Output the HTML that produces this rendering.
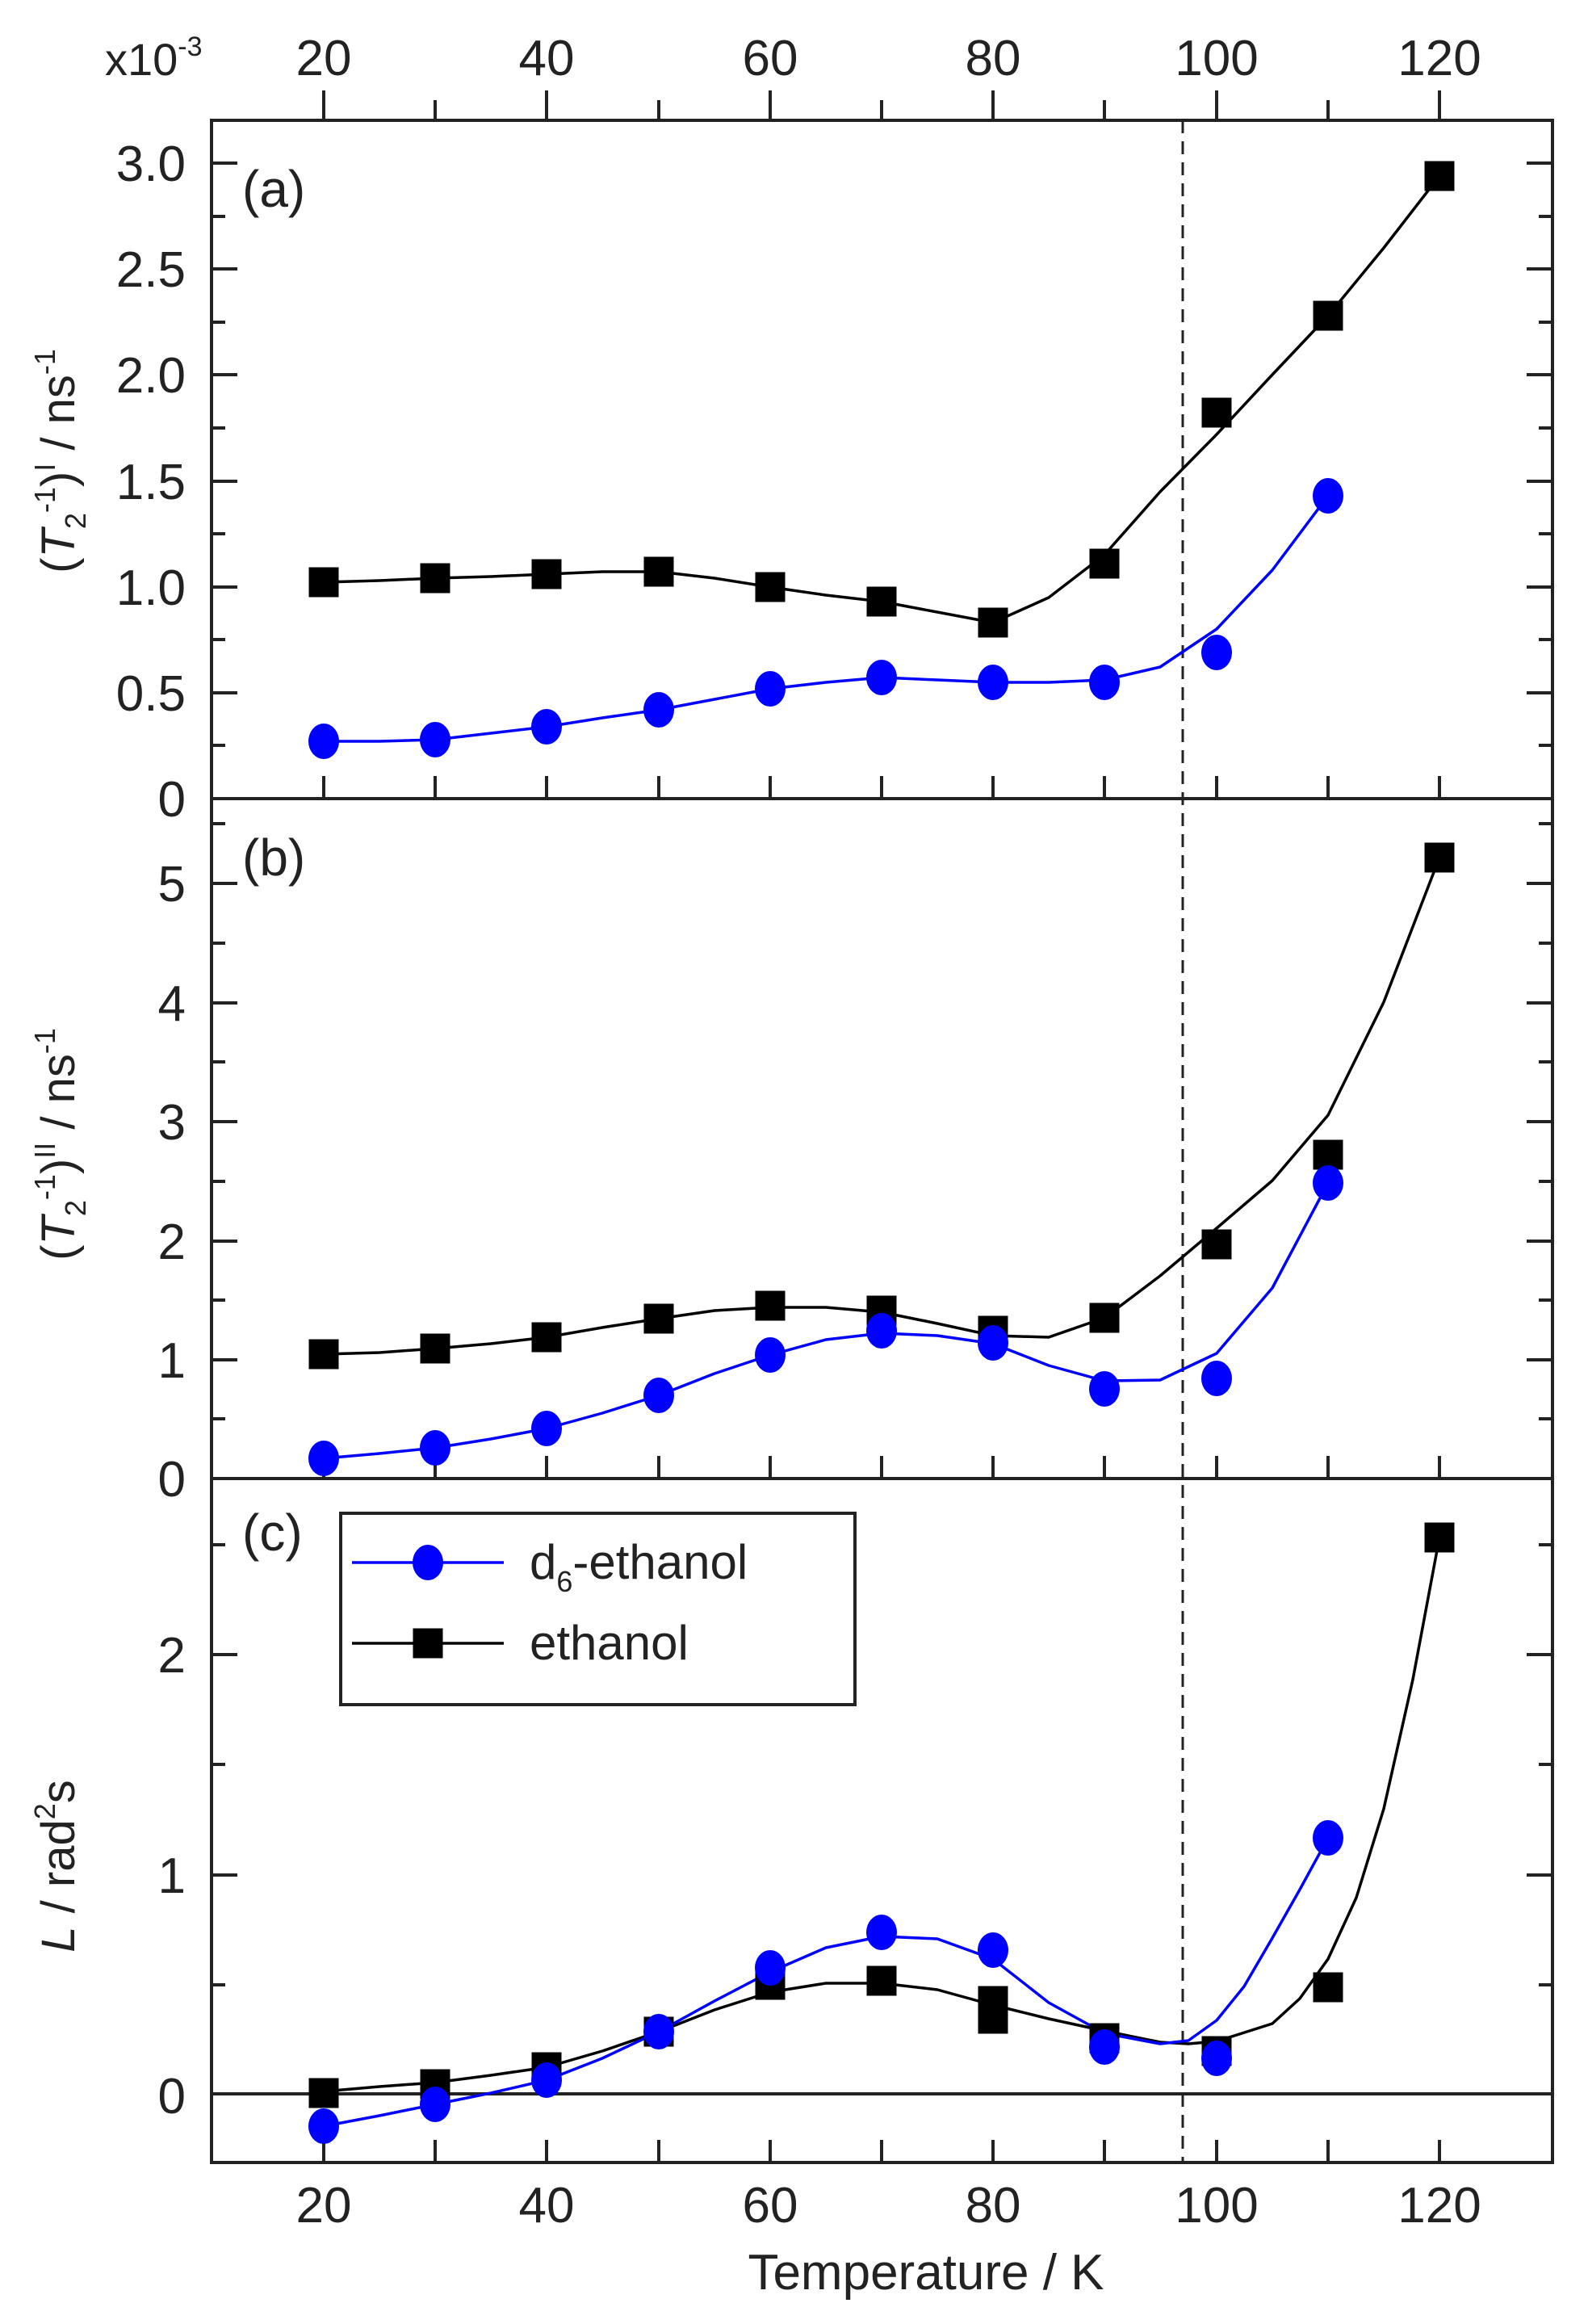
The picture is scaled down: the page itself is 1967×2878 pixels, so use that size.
<!DOCTYPE html>
<html><head><meta charset="utf-8"><style>
html,body{margin:0;padding:0;background:#fff}
svg{display:block}
text{font-family:"Liberation Sans",sans-serif;fill:#222}
</style></head><body>
<svg width="1967" height="2878" viewBox="0 0 1967 2878" xmlns="http://www.w3.org/2000/svg">
<defs>
<g id="sq"><rect x="-18.5" y="-18.5" width="37" height="37" fill="#000"/></g>
<g id="ci"><ellipse cx="0" cy="0" rx="19" ry="22" fill="#0000ff"/></g>
</defs>
<g fill="none" stroke="#222" stroke-width="4">
<rect x="262" y="149" width="1661" height="2529"/>
<line x1="262" y1="989" x2="1923" y2="989"/>
<line x1="262" y1="1831" x2="1923" y2="1831"/>
</g>
<g stroke="#222" stroke-width="4">
<path d="M401 149V112M677 149V112M954 149V112M1230 149V112M1507 149V112M1783 149V112M539 149V124M816 149V124M1092 149V124M1368 149V124M1645 149V124"/>
<path d="M401 989v-28M677 989v-28M954 989v-28M1230 989v-28M1507 989v-28M1783 989v-28M539 989v-28M816 989v-28M1092 989v-28M1368 989v-28M1645 989v-28"/>
<path d="M401 1831v-28M677 1831v-28M954 1831v-28M1230 1831v-28M1507 1831v-28M1783 1831v-28M539 1831v-28M816 1831v-28M1092 1831v-28M1368 1831v-28M1645 1831v-28"/>
<path d="M401 2678v-28M677 2678v-28M954 2678v-28M1230 2678v-28M1507 2678v-28M1783 2678v-28M539 2678v-28M816 2678v-28M1092 2678v-28M1368 2678v-28M1645 2678v-28"/>
<path d="M262 989h32M262 858h32M262 727h32M262 596h32M262 464h32M262 333h32M262 202h32M1923 989h-32M1923 858h-32M1923 727h-32M1923 596h-32M1923 464h-32M1923 333h-32M1923 202h-32"/>
<path d="M262 923h17M262 792h17M262 661h17M262 530h17M262 399h17M262 268h17M1923 923h-17M1923 792h-17M1923 661h-17M1923 530h-17M1923 399h-17M1923 268h-17"/>
<path d="M262 1684h32M262 1537h32M262 1389h32M262 1242h32M262 1094h32M1923 1684h-32M1923 1537h-32M1923 1389h-32M1923 1242h-32M1923 1094h-32"/>
<path d="M262 1757h17M262 1610h17M262 1463h17M262 1315h17M262 1168h17M262 1020h17M1923 1757h-17M1923 1610h-17M1923 1463h-17M1923 1315h-17M1923 1168h-17M1923 1020h-17"/>
<path d="M262 2322h32M262 2049h32M1923 2322h-32M1923 2049h-32"/>
<path d="M262 2458h17M262 2185h17M262 1913h17M1923 2458h-17M1923 2185h-17M1923 1913h-17"/>
<line x1="262" y1="2593" x2="1923" y2="2593" stroke-width="4"/>
</g>
<line x1="1465" y1="149" x2="1465" y2="2678" stroke="#222" stroke-width="3" stroke-dasharray="16,10"/>
<g font-size="62" text-anchor="middle">
<text x="401" y="93">20</text><text x="677" y="93">40</text><text x="954" y="93">60</text><text x="1230" y="93">80</text><text x="1507" y="93">100</text><text x="1783" y="93">120</text>
<text x="401" y="2752">20</text><text x="677" y="2752">40</text><text x="954" y="2752">60</text><text x="1230" y="2752">80</text><text x="1507" y="2752">100</text><text x="1783" y="2752">120</text>
</g>
<text x="130" y="93" font-size="56">x10<tspan font-size="34" dy="-24">-3</tspan></text>
<g font-size="62" text-anchor="end">
<text x="230" y="1011">0</text><text x="230" y="880">0.5</text><text x="230" y="749">1.0</text><text x="230" y="618">1.5</text><text x="230" y="486">2.0</text><text x="230" y="355">2.5</text><text x="230" y="224">3.0</text>
<text x="230" y="1853">0</text><text x="230" y="1706">1</text><text x="230" y="1559">2</text><text x="230" y="1411">3</text><text x="230" y="1264">4</text><text x="230" y="1116">5</text>
<text x="230" y="2617">0</text><text x="230" y="2344">1</text><text x="230" y="2071">2</text>
</g>
<text x="1147" y="2835" font-size="62" text-anchor="middle">Temperature / K</text>
<text transform="translate(92,571) rotate(-90)" font-size="58" text-anchor="middle">(<tspan font-style="italic">T</tspan><tspan font-size="36" dy="14">2</tspan><tspan font-size="36" dy="-38">-1</tspan><tspan dy="24">)</tspan><tspan font-size="36" dy="-24">I</tspan><tspan dy="24"> / ns</tspan><tspan font-size="36" dy="-24">-1</tspan></text>
<text transform="translate(92,1417) rotate(-90)" font-size="58" text-anchor="middle">(<tspan font-style="italic">T</tspan><tspan font-size="36" dy="14">2</tspan><tspan font-size="36" dy="-38">-1</tspan><tspan dy="24">)</tspan><tspan font-size="36" dy="-24">II</tspan><tspan dy="24">  / ns</tspan><tspan font-size="36" dy="-24">-1</tspan></text>
<text transform="translate(92,2311) rotate(-90)" font-size="58" text-anchor="middle"><tspan font-style="italic">L</tspan> / rad<tspan font-size="36" dy="-24">2</tspan><tspan dy="24">s</tspan></text>
<g font-size="64"><text x="300" y="256">(a)</text><text x="300" y="1084">(b)</text><text x="300" y="1920">(c)</text></g>
<g fill="none" stroke-width="3.5" stroke-linejoin="round">
<polyline stroke="#000" points="401,721 470,719 539,716 608,714 677,711 746,708 816,708 885,716 954,727 1023,737 1092,745 1161,758 1230,771 1299,740 1368,687 1437,609 1507,538 1576,464 1645,391 1714,307 1783,218"/>
<polyline stroke="#0000ff" points="401,918 470,918 539,916 608,908 677,900 746,889 816,879 885,866 954,853 1023,845 1092,839 1161,842 1230,845 1299,845 1368,842 1437,826 1507,779 1576,706 1645,614"/>
<polyline stroke="#000" points="401,1677 470,1675 539,1670 608,1664 677,1656 746,1644 816,1633 885,1623 954,1619 1023,1619 1092,1625 1161,1639 1230,1654 1299,1656 1368,1632 1437,1580 1507,1521 1576,1462 1645,1381 1714,1241 1783,1062"/>
<polyline stroke="#0000ff" points="401,1806 470,1800 539,1793 608,1782 677,1769 746,1750 816,1728 885,1701 954,1678 1023,1659 1092,1651 1161,1654 1230,1664 1299,1691 1368,1710 1437,1709 1507,1676 1576,1595 1645,1465"/>
<polyline stroke="#000" points="401,2590 470,2584 539,2579 608,2570 677,2560 746,2540 816,2516 885,2489 954,2467 1023,2456 1092,2456 1161,2464 1230,2483 1299,2500 1368,2515 1437,2529 1472,2531 1507,2528 1576,2506 1610,2475 1645,2426 1680,2350 1714,2240 1750,2080 1783,1904"/>
<polyline stroke="#0000ff" points="401,2633 470,2620 539,2606 608,2592 677,2576 746,2549 816,2516 885,2478 954,2442 1023,2412 1092,2398 1161,2401 1230,2426 1299,2480 1368,2518 1437,2531 1472,2527 1507,2502 1541,2460 1576,2400 1610,2340 1645,2276"/>
</g>
<use href="#sq" x="401" y="721"/><use href="#sq" x="539" y="716"/><use href="#sq" x="677" y="711"/><use href="#sq" x="816" y="708"/><use href="#sq" x="954" y="727"/><use href="#sq" x="1092" y="745"/><use href="#sq" x="1230" y="771"/><use href="#sq" x="1368" y="698"/><use href="#sq" x="1507" y="511"/><use href="#sq" x="1645" y="391"/><use href="#sq" x="1783" y="218"/>
<use href="#ci" x="401" y="918"/><use href="#ci" x="539" y="916"/><use href="#ci" x="677" y="900"/><use href="#ci" x="816" y="879"/><use href="#ci" x="954" y="853"/><use href="#ci" x="1092" y="839"/><use href="#ci" x="1230" y="845"/><use href="#ci" x="1368" y="845"/><use href="#ci" x="1507" y="808"/><use href="#ci" x="1645" y="614"/>
<use href="#sq" x="401" y="1677"/><use href="#sq" x="539" y="1670"/><use href="#sq" x="677" y="1656"/><use href="#sq" x="816" y="1633"/><use href="#sq" x="954" y="1617"/><use href="#sq" x="1092" y="1623"/><use href="#sq" x="1230" y="1648"/><use href="#sq" x="1368" y="1632"/><use href="#sq" x="1507" y="1541"/><use href="#sq" x="1645" y="1430"/><use href="#sq" x="1783" y="1062"/>
<use href="#ci" x="401" y="1806"/><use href="#ci" x="539" y="1793"/><use href="#ci" x="677" y="1769"/><use href="#ci" x="816" y="1728"/><use href="#ci" x="954" y="1678"/><use href="#ci" x="1092" y="1648"/><use href="#ci" x="1230" y="1663"/><use href="#ci" x="1368" y="1720"/><use href="#ci" x="1507" y="1707"/><use href="#ci" x="1645" y="1465"/>
<use href="#sq" x="401" y="2592"/><use href="#sq" x="539" y="2581"/><use href="#sq" x="677" y="2560"/><use href="#sq" x="816" y="2516"/><use href="#sq" x="954" y="2458"/><use href="#sq" x="1092" y="2453"/><use href="#sq" x="1230" y="2478"/><use href="#sq" x="1230" y="2500"/><use href="#sq" x="1368" y="2524"/><use href="#sq" x="1507" y="2540"/><use href="#sq" x="1645" y="2461"/><use href="#sq" x="1783" y="1904"/>
<use href="#ci" x="401" y="2633"/><use href="#ci" x="539" y="2606"/><use href="#ci" x="677" y="2576"/><use href="#ci" x="816" y="2516"/><use href="#ci" x="954" y="2437"/><use href="#ci" x="1092" y="2393"/><use href="#ci" x="1230" y="2415"/><use href="#ci" x="1368" y="2535"/><use href="#ci" x="1507" y="2549"/><use href="#ci" x="1645" y="2276"/>
<rect x="422" y="1874" width="637" height="237" fill="#fff" stroke="#222" stroke-width="4"/>
<line x1="436" y1="1935" x2="624" y2="1935" stroke="#0000ff" stroke-width="3.5"/>
<use href="#ci" x="530" y="1935"/>
<line x1="436" y1="2035" x2="624" y2="2035" stroke="#000" stroke-width="3.5"/>
<use href="#sq" x="530" y="2035"/>
<text x="656" y="1955" font-size="60">d<tspan font-size="36" dy="16">6</tspan><tspan dy="-16">-ethanol</tspan></text>
<text x="656" y="2055" font-size="60">ethanol</text>
</svg>
</body></html>
